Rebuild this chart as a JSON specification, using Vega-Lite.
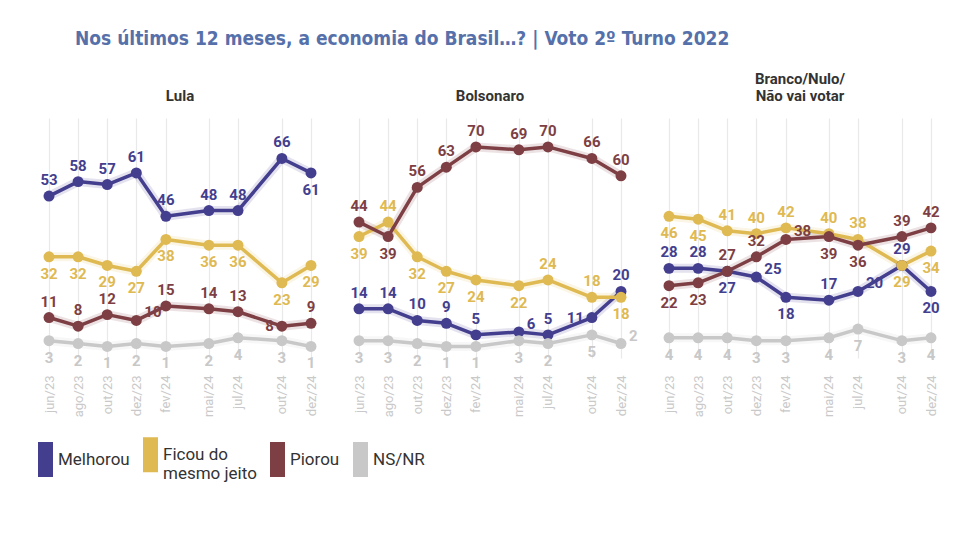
{
  "$schema": "https://vega.github.io/schema/vega-lite/v6.json",
  "background": "white",
  "padding": {"left": 28, "top": 30, "right": 10, "bottom": 10},
  "title": {
    "text": "Nos últimos 12 meses, a economia do Brasil…? | Voto 2º Turno 2022",
    "anchor": "start",
    "font": "DejaVu Sans Condensed",
    "fontSize": 19,
    "fontWeight": "bold",
    "color": "#5670aa",
    "dx": 47,
    "offset": 23
  },
  "datasets": {
    "d": [
      {"p":"Lula","s":"Melhorou","d":"2023-06-01","v":53},
      {"p":"Lula","s":"Melhorou","d":"2023-08-01","v":58},
      {"p":"Lula","s":"Melhorou","d":"2023-10-01","v":57},
      {"p":"Lula","s":"Melhorou","d":"2023-12-01","v":61},
      {"p":"Lula","s":"Melhorou","d":"2024-02-01","v":46},
      {"p":"Lula","s":"Melhorou","d":"2024-05-01","v":48},
      {"p":"Lula","s":"Melhorou","d":"2024-07-01","v":48},
      {"p":"Lula","s":"Melhorou","d":"2024-10-01","v":66},
      {"p":"Lula","s":"Melhorou","d":"2024-12-01","v":61},
      {"p":"Lula","s":"Ficou do mesmo jeito","d":"2023-06-01","v":32},
      {"p":"Lula","s":"Ficou do mesmo jeito","d":"2023-08-01","v":32},
      {"p":"Lula","s":"Ficou do mesmo jeito","d":"2023-10-01","v":29},
      {"p":"Lula","s":"Ficou do mesmo jeito","d":"2023-12-01","v":27},
      {"p":"Lula","s":"Ficou do mesmo jeito","d":"2024-02-01","v":38},
      {"p":"Lula","s":"Ficou do mesmo jeito","d":"2024-05-01","v":36},
      {"p":"Lula","s":"Ficou do mesmo jeito","d":"2024-07-01","v":36},
      {"p":"Lula","s":"Ficou do mesmo jeito","d":"2024-10-01","v":23},
      {"p":"Lula","s":"Ficou do mesmo jeito","d":"2024-12-01","v":29},
      {"p":"Lula","s":"Piorou","d":"2023-06-01","v":11},
      {"p":"Lula","s":"Piorou","d":"2023-08-01","v":8},
      {"p":"Lula","s":"Piorou","d":"2023-10-01","v":12},
      {"p":"Lula","s":"Piorou","d":"2023-12-01","v":10},
      {"p":"Lula","s":"Piorou","d":"2024-02-01","v":15},
      {"p":"Lula","s":"Piorou","d":"2024-05-01","v":14},
      {"p":"Lula","s":"Piorou","d":"2024-07-01","v":13},
      {"p":"Lula","s":"Piorou","d":"2024-10-01","v":8},
      {"p":"Lula","s":"Piorou","d":"2024-12-01","v":9},
      {"p":"Lula","s":"NS/NR","d":"2023-06-01","v":3},
      {"p":"Lula","s":"NS/NR","d":"2023-08-01","v":2},
      {"p":"Lula","s":"NS/NR","d":"2023-10-01","v":1},
      {"p":"Lula","s":"NS/NR","d":"2023-12-01","v":2},
      {"p":"Lula","s":"NS/NR","d":"2024-02-01","v":1},
      {"p":"Lula","s":"NS/NR","d":"2024-05-01","v":2},
      {"p":"Lula","s":"NS/NR","d":"2024-07-01","v":4},
      {"p":"Lula","s":"NS/NR","d":"2024-10-01","v":3},
      {"p":"Lula","s":"NS/NR","d":"2024-12-01","v":1},
      {"p":"Bolsonaro","s":"Melhorou","d":"2023-06-01","v":14},
      {"p":"Bolsonaro","s":"Melhorou","d":"2023-08-01","v":14},
      {"p":"Bolsonaro","s":"Melhorou","d":"2023-10-01","v":10},
      {"p":"Bolsonaro","s":"Melhorou","d":"2023-12-01","v":9},
      {"p":"Bolsonaro","s":"Melhorou","d":"2024-02-01","v":5},
      {"p":"Bolsonaro","s":"Melhorou","d":"2024-05-01","v":6},
      {"p":"Bolsonaro","s":"Melhorou","d":"2024-07-01","v":5},
      {"p":"Bolsonaro","s":"Melhorou","d":"2024-10-01","v":11},
      {"p":"Bolsonaro","s":"Melhorou","d":"2024-12-01","v":20},
      {"p":"Bolsonaro","s":"Ficou do mesmo jeito","d":"2023-06-01","v":39},
      {"p":"Bolsonaro","s":"Ficou do mesmo jeito","d":"2023-08-01","v":44},
      {"p":"Bolsonaro","s":"Ficou do mesmo jeito","d":"2023-10-01","v":32},
      {"p":"Bolsonaro","s":"Ficou do mesmo jeito","d":"2023-12-01","v":27},
      {"p":"Bolsonaro","s":"Ficou do mesmo jeito","d":"2024-02-01","v":24},
      {"p":"Bolsonaro","s":"Ficou do mesmo jeito","d":"2024-05-01","v":22},
      {"p":"Bolsonaro","s":"Ficou do mesmo jeito","d":"2024-07-01","v":24},
      {"p":"Bolsonaro","s":"Ficou do mesmo jeito","d":"2024-10-01","v":18},
      {"p":"Bolsonaro","s":"Ficou do mesmo jeito","d":"2024-12-01","v":18},
      {"p":"Bolsonaro","s":"Piorou","d":"2023-06-01","v":44},
      {"p":"Bolsonaro","s":"Piorou","d":"2023-08-01","v":39},
      {"p":"Bolsonaro","s":"Piorou","d":"2023-10-01","v":56},
      {"p":"Bolsonaro","s":"Piorou","d":"2023-12-01","v":63},
      {"p":"Bolsonaro","s":"Piorou","d":"2024-02-01","v":70},
      {"p":"Bolsonaro","s":"Piorou","d":"2024-05-01","v":69},
      {"p":"Bolsonaro","s":"Piorou","d":"2024-07-01","v":70},
      {"p":"Bolsonaro","s":"Piorou","d":"2024-10-01","v":66},
      {"p":"Bolsonaro","s":"Piorou","d":"2024-12-01","v":60},
      {"p":"Bolsonaro","s":"NS/NR","d":"2023-06-01","v":3},
      {"p":"Bolsonaro","s":"NS/NR","d":"2023-08-01","v":3},
      {"p":"Bolsonaro","s":"NS/NR","d":"2023-10-01","v":2},
      {"p":"Bolsonaro","s":"NS/NR","d":"2023-12-01","v":1},
      {"p":"Bolsonaro","s":"NS/NR","d":"2024-02-01","v":1},
      {"p":"Bolsonaro","s":"NS/NR","d":"2024-05-01","v":3},
      {"p":"Bolsonaro","s":"NS/NR","d":"2024-07-01","v":2},
      {"p":"Bolsonaro","s":"NS/NR","d":"2024-10-01","v":5},
      {"p":"Bolsonaro","s":"NS/NR","d":"2024-12-01","v":2},
      {"p":"Branco","s":"Melhorou","d":"2023-06-01","v":28},
      {"p":"Branco","s":"Melhorou","d":"2023-08-01","v":28},
      {"p":"Branco","s":"Melhorou","d":"2023-10-01","v":27},
      {"p":"Branco","s":"Melhorou","d":"2023-12-01","v":25},
      {"p":"Branco","s":"Melhorou","d":"2024-02-01","v":18},
      {"p":"Branco","s":"Melhorou","d":"2024-05-01","v":17},
      {"p":"Branco","s":"Melhorou","d":"2024-07-01","v":20},
      {"p":"Branco","s":"Melhorou","d":"2024-10-01","v":29},
      {"p":"Branco","s":"Melhorou","d":"2024-12-01","v":20},
      {"p":"Branco","s":"Ficou do mesmo jeito","d":"2023-06-01","v":46},
      {"p":"Branco","s":"Ficou do mesmo jeito","d":"2023-08-01","v":45},
      {"p":"Branco","s":"Ficou do mesmo jeito","d":"2023-10-01","v":41},
      {"p":"Branco","s":"Ficou do mesmo jeito","d":"2023-12-01","v":40},
      {"p":"Branco","s":"Ficou do mesmo jeito","d":"2024-02-01","v":42},
      {"p":"Branco","s":"Ficou do mesmo jeito","d":"2024-05-01","v":40},
      {"p":"Branco","s":"Ficou do mesmo jeito","d":"2024-07-01","v":38},
      {"p":"Branco","s":"Ficou do mesmo jeito","d":"2024-10-01","v":29},
      {"p":"Branco","s":"Ficou do mesmo jeito","d":"2024-12-01","v":34},
      {"p":"Branco","s":"Piorou","d":"2023-06-01","v":22},
      {"p":"Branco","s":"Piorou","d":"2023-08-01","v":23},
      {"p":"Branco","s":"Piorou","d":"2023-10-01","v":27},
      {"p":"Branco","s":"Piorou","d":"2023-12-01","v":32},
      {"p":"Branco","s":"Piorou","d":"2024-02-01","v":38},
      {"p":"Branco","s":"Piorou","d":"2024-05-01","v":39},
      {"p":"Branco","s":"Piorou","d":"2024-07-01","v":36},
      {"p":"Branco","s":"Piorou","d":"2024-10-01","v":39},
      {"p":"Branco","s":"Piorou","d":"2024-12-01","v":42},
      {"p":"Branco","s":"NS/NR","d":"2023-06-01","v":4},
      {"p":"Branco","s":"NS/NR","d":"2023-08-01","v":4},
      {"p":"Branco","s":"NS/NR","d":"2023-10-01","v":4},
      {"p":"Branco","s":"NS/NR","d":"2023-12-01","v":3},
      {"p":"Branco","s":"NS/NR","d":"2024-02-01","v":3},
      {"p":"Branco","s":"NS/NR","d":"2024-05-01","v":4},
      {"p":"Branco","s":"NS/NR","d":"2024-07-01","v":7},
      {"p":"Branco","s":"NS/NR","d":"2024-10-01","v":3},
      {"p":"Branco","s":"NS/NR","d":"2024-12-01","v":4}
    ]
  },
  "data": {"name": "d"},
  "facet": {
    "column": {
      "field": "p",
      "type": "nominal",
      "sort": ["Lula", "Bolsonaro", "Branco"],
      "header": {
        "title": null,
        "labelExpr": "datum.value == 'Branco' ? ['Branco/Nulo/', 'Não vai votar'] : datum.value",
        "labelFont": "Roboto",
        "labelFontSize": 15,
        "labelFontWeight": "bold",
        "labelColor": "#333333",
        "labelBaseline": "middle",
        "labelPadding": 7
      }
    }
  },
  "spacing": 22,
  "spec": {
    "width": 262,
    "height": 240,
    "encoding": {
      "x": {
        "field": "d",
        "type": "temporal",
        "scale": {
          "type": "utc",
          "nice": false,
          "domain": [
            {"year": 2023, "month": 6, "date": 1, "utc": true},
            {"year": 2024, "month": 12, "date": 1, "utc": true}
          ]
        },
        "axis": {
          "title": null,
          "values": [
            {"year": 2023, "month": 6, "date": 1, "utc": true},
            {"year": 2023, "month": 8, "date": 1, "utc": true},
            {"year": 2023, "month": 10, "date": 1, "utc": true},
            {"year": 2023, "month": 12, "date": 1, "utc": true},
            {"year": 2024, "month": 2, "date": 1, "utc": true},
            {"year": 2024, "month": 5, "date": 1, "utc": true},
            {"year": 2024, "month": 7, "date": 1, "utc": true},
            {"year": 2024, "month": 10, "date": 1, "utc": true},
            {"year": 2024, "month": 12, "date": 1, "utc": true}
          ],
          "labelExpr": "['jan','fev','mar','abr','mai','jun','jul','ago','set','out','nov','dez'][utcmonth(datum.value)] + '/' + utcFormat(datum.value, '%y')",
          "labelAngle": -90,
          "labelColor": "#c9c9c9",
          "labelFont": "Roboto",
          "labelFontSize": 13,
          "labelPadding": 3,
          "labelOverlap": false,
          "labelFlush": false,
          "domain": false,
          "ticks": false,
          "grid": true,
          "gridColor": "#e9e9e9",
          "gridWidth": 1.2
        }
      },
      "y": {
        "field": "v",
        "type": "quantitative",
        "scale": {"domain": [-3, 80]},
        "axis": null
      },
      "color": {
        "field": "s",
        "type": "nominal",
        "scale": {
          "domain": ["Melhorou", "Ficou do mesmo jeito", "Piorou", "NS/NR"],
          "range": ["#433e8e", "#dfb951", "#7d3f43", "#c8c8c8"]
        },
        "legend": {
          "title": null,
          "orient": "none",
          "direction": "horizontal",
          "legendX": -21,
          "legendY": 319,
          "symbolType": "M-0.43,-1H0.43V1H-0.43Z",
          "symbolSize": 1225,
          "symbolStrokeWidth": 0,
          "symbolOpacity": 1,
          "labelFont": "Roboto",
          "labelFontSize": 17,
          "labelColor": "#333333",
          "labelOffset": -5,
          "columnPadding": 3,
          "labelExpr": "datum.value == 'Ficou do mesmo jeito' ? ['Ficou do', 'mesmo jeito'] : datum.value",
          "encode": {
            "symbols": {"update": {"fill": {"scale": "color", "field": "value"}, "strokeWidth": {"value": 0}}}
          }
        }
      }
    },
    "layer": [
      {"mark": {"type": "line", "strokeWidth": 9, "opacity": 0.15, "strokeCap": "round", "strokeJoin": "round"}},
      {"mark": {"type": "line", "strokeWidth": 3.5, "strokeJoin": "round"}},
      {"mark": {"type": "point", "filled": true, "size": 120, "opacity": 1}},
      {
        "transform": [{"filter": "indexof(['Lula|Piorou|2024-10','Bolsonaro|Melhorou|2024-10','Branco|Piorou|2024-02','Branco|Melhorou|2023-12','Bolsonaro|NS/NR|2024-12','Bolsonaro|Melhorou|2024-05','Branco|Melhorou|2024-07','Lula|Piorou|2023-12'], datum.p + '|' + datum.s + '|' + utcFormat(datum.d, '%Y-%m')) < 0 && (indexof(['Melhorou','Piorou'], datum.s) >= 0) != (indexof(['Lula|Melhorou|2024-12','Bolsonaro|Piorou|2023-08','Bolsonaro|Ficou do mesmo jeito|2023-08','Bolsonaro|Ficou do mesmo jeito|2024-07','Bolsonaro|Ficou do mesmo jeito|2024-10','Branco|Melhorou|2023-10','Branco|Melhorou|2024-02','Branco|Melhorou|2024-12','Branco|Piorou|2023-06','Branco|Piorou|2023-08','Branco|Piorou|2024-05','Branco|Piorou|2024-07','Branco|Ficou do mesmo jeito|2023-10','Branco|Ficou do mesmo jeito|2023-12','Branco|Ficou do mesmo jeito|2024-02','Branco|Ficou do mesmo jeito|2024-05','Branco|Ficou do mesmo jeito|2024-07'], datum.p + '|' + datum.s + '|' + utcFormat(datum.d, '%Y-%m')) >= 0)"}],
        "mark": {"type": "text", "dy": -16, "font": "Roboto", "fontSize": 15, "fontWeight": "bold"},
        "encoding": {"text": {"field": "v", "type": "quantitative"}}
      },
      {
        "transform": [{"filter": "indexof(['Lula|Piorou|2024-10','Bolsonaro|Melhorou|2024-10','Branco|Piorou|2024-02','Branco|Melhorou|2023-12','Bolsonaro|NS/NR|2024-12','Bolsonaro|Melhorou|2024-05','Branco|Melhorou|2024-07','Lula|Piorou|2023-12'], datum.p + '|' + datum.s + '|' + utcFormat(datum.d, '%Y-%m')) < 0 && (indexof(['Melhorou','Piorou'], datum.s) >= 0) == (indexof(['Lula|Melhorou|2024-12','Bolsonaro|Piorou|2023-08','Bolsonaro|Ficou do mesmo jeito|2023-08','Bolsonaro|Ficou do mesmo jeito|2024-07','Bolsonaro|Ficou do mesmo jeito|2024-10','Branco|Melhorou|2023-10','Branco|Melhorou|2024-02','Branco|Melhorou|2024-12','Branco|Piorou|2023-06','Branco|Piorou|2023-08','Branco|Piorou|2024-05','Branco|Piorou|2024-07','Branco|Ficou do mesmo jeito|2023-10','Branco|Ficou do mesmo jeito|2023-12','Branco|Ficou do mesmo jeito|2024-02','Branco|Ficou do mesmo jeito|2024-05','Branco|Ficou do mesmo jeito|2024-07'], datum.p + '|' + datum.s + '|' + utcFormat(datum.d, '%Y-%m')) >= 0)"}],
        "mark": {"type": "text", "dy": 17, "font": "Roboto", "fontSize": 15, "fontWeight": "bold"},
        "encoding": {"text": {"field": "v", "type": "quantitative"}}
      },
      {
        "transform": [{"filter": "indexof(['Lula|Piorou|2024-10','Bolsonaro|Melhorou|2024-10'], datum.p + '|' + datum.s + '|' + utcFormat(datum.d, '%Y-%m')) >= 0"}],
        "mark": {"type": "text", "align": "right", "dx": -8, "dy": 0, "font": "Roboto", "fontSize": 15, "fontWeight": "bold"},
        "encoding": {"text": {"field": "v", "type": "quantitative"}}
      },
      {
        "transform": [{"filter": "indexof(['Branco|Piorou|2024-02','Branco|Melhorou|2023-12','Bolsonaro|NS/NR|2024-12','Bolsonaro|Melhorou|2024-05','Branco|Melhorou|2024-07','Lula|Piorou|2023-12'], datum.p + '|' + datum.s + '|' + utcFormat(datum.d, '%Y-%m')) >= 0"}],
        "mark": {"type": "text", "align": "left", "dx": 8, "dy": -8, "font": "Roboto", "fontSize": 15, "fontWeight": "bold"},
        "encoding": {"text": {"field": "v", "type": "quantitative"}}
      }
    ]
  },
  "config": {
    "view": {"stroke": null},
    "font": "Roboto"
  }
}
